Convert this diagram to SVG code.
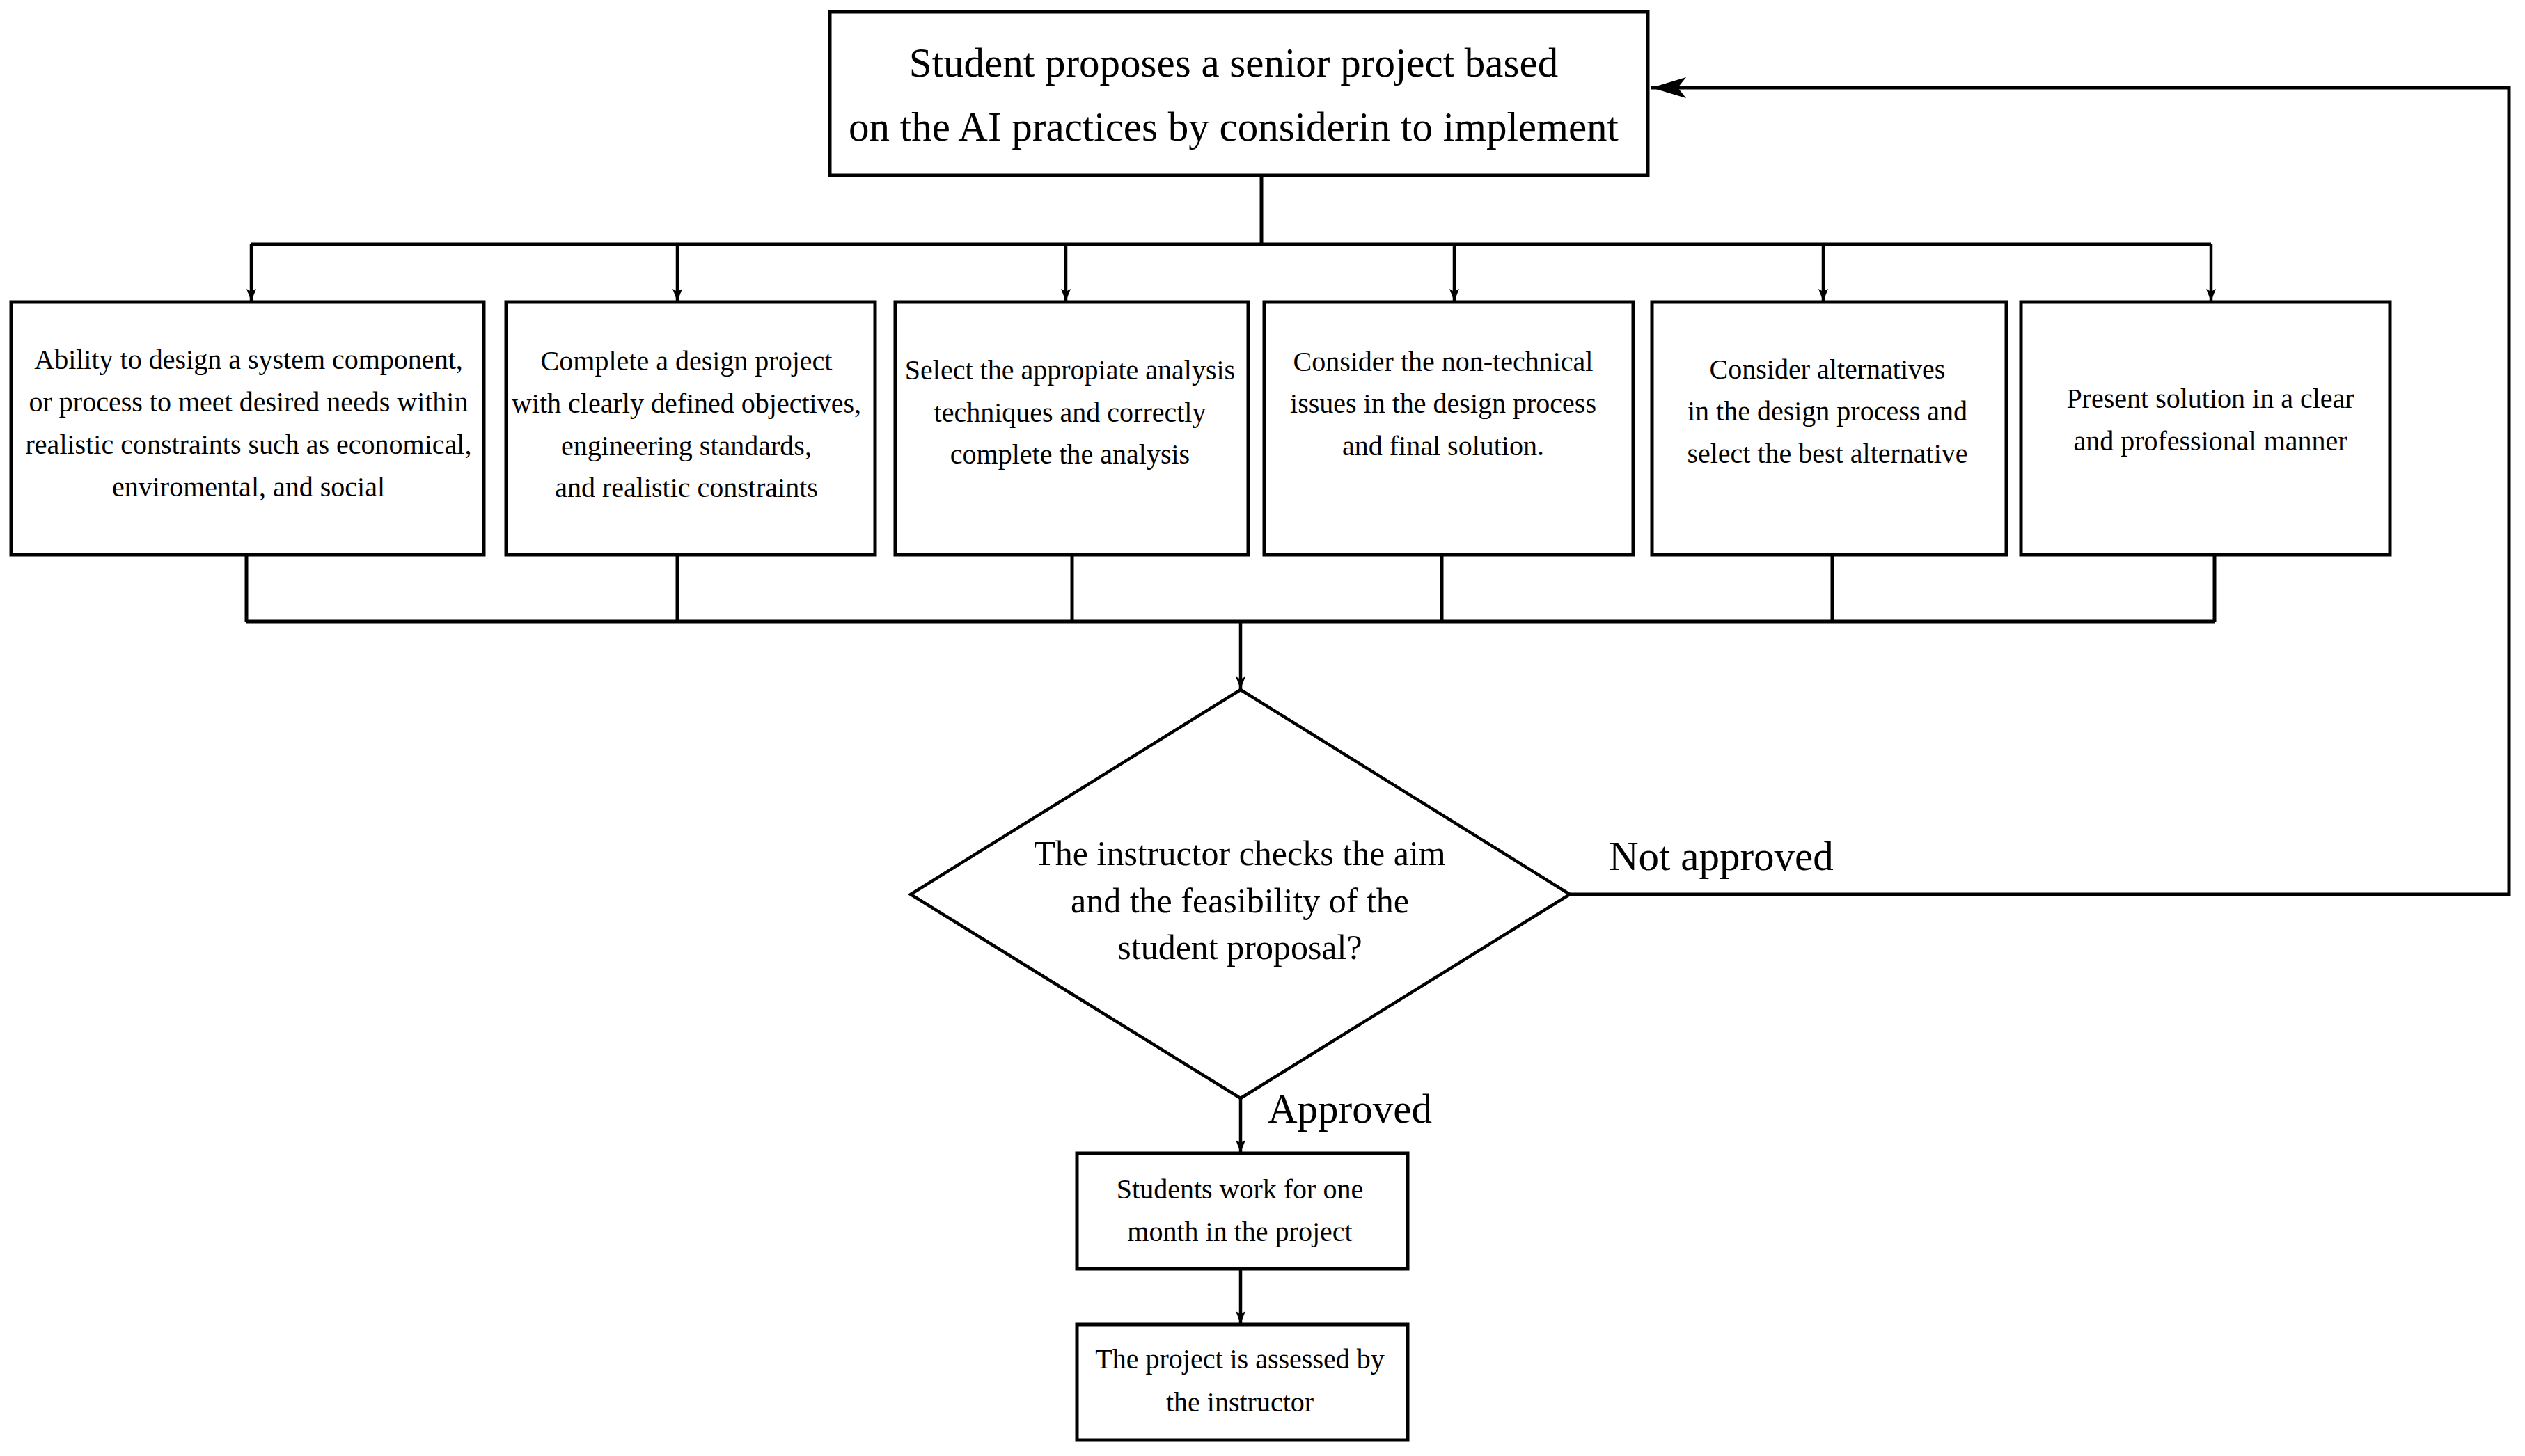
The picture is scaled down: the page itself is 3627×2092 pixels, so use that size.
<svg xmlns="http://www.w3.org/2000/svg" width="3627" height="2092" viewBox="0 0 3627 2092">
<style>
  .box { fill: #fff; stroke: #000; stroke-width: 5; }
  .dia { fill: #fff; stroke: #000; stroke-width: 4.5; }
  .ln { fill: none; stroke: #000; stroke-width: 5; }
  .ar { fill: none; stroke: #000; stroke-width: 4.5; marker-end: url(#sa); }
  text { font-family: "Liberation Serif", "Times New Roman", serif; fill: #000; text-anchor: middle; }
  .t59 { font-size: 59px; }
  .t50 { font-size: 50px; }
  .t40 { font-size: 40px; }
  .lab { font-size: 59px; text-anchor: start; }
</style>
<defs>
  <marker id="sa" markerUnits="userSpaceOnUse" markerWidth="20" markerHeight="14" refX="18" refY="7" orient="auto">
    <path d="M0,0 L18,7 L0,14 L4,7 z" fill="#000"/>
  </marker>
  <marker id="la" markerUnits="userSpaceOnUse" markerWidth="52" markerHeight="30" refX="50" refY="15" orient="auto">
    <path d="M0,0 L50,15 L0,30 L12,15 z" fill="#000"/>
  </marker>
</defs>
<rect width="3627" height="2092" fill="#fff"/>
<g id="connectors">
  <path class="ln" d="M1812 253 V351"/>
  <path class="ln" d="M361 351 H3176"/>
  <path class="ar" d="M361 351 V433"/>
  <path class="ar" d="M973 351 V433"/>
  <path class="ar" d="M1531 351 V433"/>
  <path class="ar" d="M2089 351 V433"/>
  <path class="ar" d="M2619 351 V433"/>
  <path class="ar" d="M3176 351 V433"/>
  <path class="ln" d="M354 797 V893"/>
  <path class="ln" d="M973 797 V893"/>
  <path class="ln" d="M1540 797 V893"/>
  <path class="ln" d="M2071 797 V893"/>
  <path class="ln" d="M2632 797 V893"/>
  <path class="ln" d="M3181 797 V893"/>
  <path class="ln" d="M354 893 H3181"/>
  <path class="ar" d="M1782 893 V990"/>
  <path class="ar" d="M1782 1578 V1656"/>
  <path class="ar" d="M1782 1823 V1902"/>
  <path class="ln" d="M2255 1285 H3604 V126 H2372" style="marker-end:url(#la)"/>
</g>
<g id="n-top">
  <rect class="box" x="1192" y="17" width="1175" height="235"/>
  <text class="t59" x="1772" y="110">Student proposes a senior project based</text>
  <text class="t59" x="1772" y="202">on the AI practices by considerin to implement</text>
</g>
<g id="n-b1">
  <rect class="box" x="16" y="434" width="679" height="363"/>
  <text class="t40" x="357" y="530">Ability to design a system component,</text>
  <text class="t40" x="357" y="591">or process to meet desired needs within</text>
  <text class="t40" x="357" y="652">realistic constraints such as economical,</text>
  <text class="t40" x="357" y="713">enviromental, and social</text>
</g>
<g id="n-b2">
  <rect class="box" x="727" y="434" width="530" height="363"/>
  <text class="t40" x="986" y="532">Complete a design project</text>
  <text class="t40" x="986" y="593">with clearly defined objectives,</text>
  <text class="t40" x="986" y="654">engineering standards,</text>
  <text class="t40" x="986" y="714">and realistic constraints</text>
</g>
<g id="n-b3">
  <rect class="box" x="1286" y="434" width="507" height="363"/>
  <text class="t40" x="1537" y="545">Select the appropiate analysis</text>
  <text class="t40" x="1537" y="606">techniques and correctly</text>
  <text class="t40" x="1537" y="666">complete the analysis</text>
</g>
<g id="n-b4">
  <rect class="box" x="1816" y="434" width="530" height="363"/>
  <text class="t40" x="2073" y="533">Consider the non-technical</text>
  <text class="t40" x="2073" y="593">issues in the design process</text>
  <text class="t40" x="2073" y="654">and final solution.</text>
</g>
<g id="n-b5">
  <rect class="box" x="2373" y="434" width="509" height="363"/>
  <text class="t40" x="2625" y="544">Consider alternatives</text>
  <text class="t40" x="2625" y="604">in the design process and</text>
  <text class="t40" x="2625" y="665">select the best alternative</text>
</g>
<g id="n-b6">
  <rect class="box" x="2903" y="434" width="530" height="363"/>
  <text class="t40" x="3175" y="586">Present solution in a clear</text>
  <text class="t40" x="3175" y="647">and professional manner</text>
</g>
<g id="n-dec">
  <polygon class="dia" points="1782,991 2255,1285 1782,1578 1308,1285"/>
  <text class="t50" x="1781" y="1243">The instructor checks the aim</text>
  <text class="t50" x="1781" y="1311">and the feasibility of the</text>
  <text class="t50" x="1781" y="1378">student proposal?</text>
</g>
<g id="n-work">
  <rect class="box" x="1547" y="1657" width="475" height="166"/>
  <text class="t40" x="1781" y="1722">Students work for one</text>
  <text class="t40" x="1781" y="1783">month in the project</text>
</g>
<g id="n-assess">
  <rect class="box" x="1547" y="1903" width="475" height="166"/>
  <text class="t40" x="1781" y="1966">The project is assessed by</text>
  <text class="t40" x="1781" y="2028">the instructor</text>
</g>
<g id="labels">
  <text class="lab" x="2311" y="1250">Not approved</text>
  <text class="lab" x="1821" y="1613">Approved</text>
</g>
</svg>
